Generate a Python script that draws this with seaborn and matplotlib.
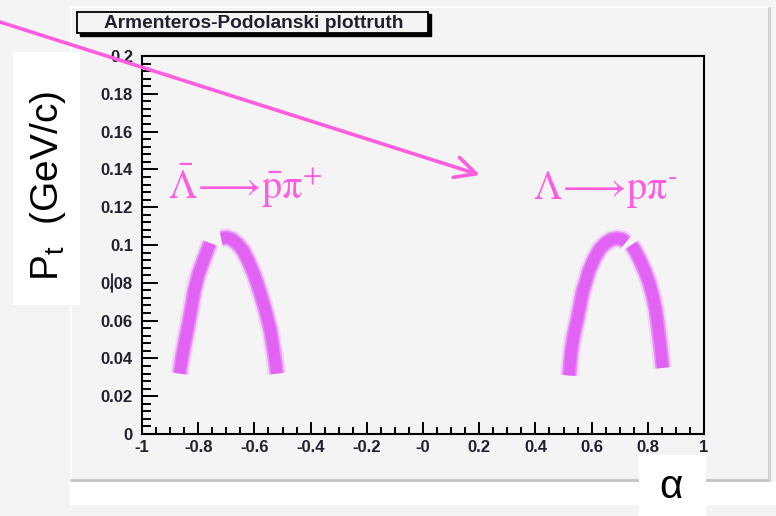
import matplotlib
matplotlib.use("Agg")
import matplotlib.pyplot as plt
import pandas as pd
import seaborn as sns
from matplotlib.patches import Rectangle, FancyArrowPatch
from matplotlib.lines import Line2D

# Centre lines of the populated Armenteros-Podolanski bands (alpha, p_t [GeV/c]).
# Each arc is split in two pieces at the narrow gap near its top.
abar_a_alpha = [-0.866, -0.858, -0.848, -0.836, -0.825, -0.815, -0.800, -0.781, -0.768, -0.758]
abar_a_pt = [0.032, 0.040, 0.048, 0.057, 0.066, 0.075, 0.084, 0.092, 0.097, 0.101]
abar_b_alpha = [-0.718, -0.700, -0.680, -0.660, -0.640, -0.620, -0.600, -0.580, -0.560, -0.543, -0.530, -0.520]
abar_b_pt = [0.1035, 0.1040, 0.1030, 0.1005, 0.097, 0.091, 0.084, 0.075, 0.065, 0.055, 0.043, 0.032]
lam_a_alpha = [0.520, 0.527, 0.536, 0.547, 0.568, 0.590, 0.610, 0.630, 0.650, 0.670, 0.690, 0.710, 0.722]
lam_a_pt = [0.031, 0.043, 0.052, 0.059, 0.075, 0.086, 0.093, 0.098, 0.101, 0.103, 0.1035, 0.103, 0.1015]
lam_b_alpha = [0.742, 0.755, 0.772, 0.790, 0.805, 0.818, 0.828, 0.836, 0.845, 0.853]
lam_b_pt = [0.100, 0.097, 0.092, 0.086, 0.080, 0.073, 0.066, 0.057, 0.046, 0.035]

x_ticks = [-1.0, -0.8, -0.6, -0.4, -0.2, 0.0, 0.2, 0.4, 0.6, 0.8, 1.0]
x_tick_labels = ["-1", "-0.8", "-0.6", "-0.4", "-0.2", "-0", "0.2", "0.4", "0.6", "0.8", "1"]
y_ticks = [0.0, 0.02, 0.04, 0.06, 0.08, 0.10, 0.12, 0.14, 0.16, 0.18, 0.20]
y_tick_labels = ["0", "0.02", "0.04", "0.06", "0.08", "0.1", "0.12", "0.14", "0.16", "0.18", "0.2"]

title = "Armenteros-Podolanski plottruth"
label_antilambda = r"$\bar{\Lambda}\!\longrightarrow\!\bar{\mathrm{p}}\mathrm{\pi}^{+}$"
label_lambda = r"$\Lambda\!\longrightarrow\!\mathrm{p}\mathrm{\pi}^{\text{-}}$"

frames = []
for name, a, p in [("abar_a", abar_a_alpha, abar_a_pt), ("abar_b", abar_b_alpha, abar_b_pt),
                   ("lam_a", lam_a_alpha, lam_a_pt), ("lam_b", lam_b_alpha, lam_b_pt)]:
    frames.append(pd.DataFrame({"alpha": a, "pt": p, "segment": name}))
bands = pd.concat(frames, ignore_index=True)

W, H = 776, 516
sns.set_theme(style="ticks")
plt.rcParams["font.family"] = ["Liberation Sans", "DejaVu Sans"]
plt.rcParams["axes.unicode_minus"] = False

BG = "#f4f4f4"
INK = "#20202e"
MAGENTA = "#ff5ce0"
POINTS = "#e262f4"

fig = plt.figure(figsize=(W / 100, H / 100), dpi=100, facecolor=BG)


def rect(x0, y0, x1, y1, **kw):
    r = Rectangle((x0 / W, 1 - y1 / H), (x1 - x0) / W, (y1 - y0) / H,
                  transform=fig.transFigure, **kw)
    fig.add_artist(r)
    return r


def line(x0, y0, x1, y1, **kw):
    fig.add_artist(Line2D([x0 / W, x1 / W], [1 - y0 / H, 1 - y1 / H],
                          transform=fig.transFigure, **kw))


# canvas edges: light top/left rim and a grey drop shadow on bottom/right
line(71, 7, 768, 7, color="white", lw=1.2, zorder=0)
line(71, 7, 71, 480, color="white", lw=1.2, zorder=0)
line(71, 480, 769, 480, color="#c4c4c4", lw=2.0, zorder=0)
line(769, 8, 769, 481, color="#d0d0d0", lw=2.0, zorder=0)
rect(70, 482, 776, 505, facecolor="white", edgecolor="none", zorder=0)

# plot frame
ax = fig.add_axes([142 / W, 1 - 434 / H, 562 / W, 378 / H])
ax.set_facecolor(BG)

# sparse outer fringe, then the dense core of each band
sns.lineplot(data=bands, x="alpha", y="pt", units="segment", estimator=None, sort=False,
             color="#f0b4f8", linewidth=13.5, alpha=0.45, ax=ax, solid_capstyle="butt")
sns.lineplot(data=bands, x="alpha", y="pt", units="segment", estimator=None, sort=False,
             color="#e27cf6", linewidth=10.5, alpha=0.8, ax=ax, solid_capstyle="butt")
sns.lineplot(data=bands, x="alpha", y="pt", units="segment", estimator=None, sort=False,
             color=POINTS, linewidth=8.0, ax=ax, solid_capstyle="butt")

ax.set_xlim(-1, 1)
ax.set_ylim(0, 0.2)
ax.set_xlabel("")
ax.set_ylabel("")
ax.set_xticks(x_ticks)
ax.set_xticklabels(x_tick_labels)
ax.set_yticks(y_ticks)
ax.set_yticklabels(y_tick_labels)
ax.set_xticks([v / 100 for v in range(-100, 101, 5)], minor=True)
ax.set_yticks([v / 1000 for v in range(0, 201, 4)], minor=True)
ax.tick_params(axis="both", which="both", direction="in", colors="black", width=1.4,
               labelcolor=INK, labelsize=12)
ax.tick_params(axis="y", which="major", length=11.5, pad=6.5)
ax.tick_params(axis="y", which="minor", length=6.5)
ax.tick_params(axis="x", which="major", length=9, pad=4)
ax.tick_params(axis="x", which="minor", length=5)
for lab in ax.get_xticklabels() + ax.get_yticklabels():
    lab.set_fontweight("bold")
for side in ("left", "bottom", "top", "right"):
    ax.spines[side].set_visible(True)
    ax.spines[side].set_color("black")
    ax.spines[side].set_linewidth(1.5)
ax.grid(False)

# decay channel labels
ax.text(-0.907, 0.1243, label_antilambda, color=MAGENTA, fontsize=29,
        math_fontfamily="stix", ha="left", va="baseline")
ax.text(0.391, 0.1243, label_lambda, color=MAGENTA, fontsize=29,
        math_fontfamily="stix", ha="left", va="baseline")

# title box with shadow
rect(80, 14, 431, 36, facecolor="black", edgecolor="black", lw=1.0, zorder=3)
rect(77, 12, 428, 33, facecolor=BG, edgecolor="black", lw=1.3, zorder=4)
fig.text(254 / W, 1 - 23 / H, title, ha="center", va="center", fontsize=13.8,
         fontweight="bold", color=INK, zorder=5)

# axis titles on white cards
rect(13, 52, 80, 305, facecolor="white", edgecolor="none", zorder=3)
fig.text(48 / W, 1 - 186 / H, r"P$_{\mathregular{t}}$  (GeV/c)", rotation=90,
         ha="center", va="center", fontsize=28, color="black", zorder=4)
rect(639, 455, 706, 516, facecolor="white", edgecolor="none", zorder=3)
fig.text(671 / W, 1 - 487 / H, "α", ha="center", va="center", fontsize=29,
         color="black", zorder=4)

# text cursor mark beside the 0.08 label
line(112, 274, 112, 292, color="#1a1a40", lw=1.3, zorder=5)

# pointer arrow across the canvas
arrow = FancyArrowPatch((0, 1 - 22 / H), (480 / W, 1 - 175 / H), transform=fig.transFigure,
                        arrowstyle="->,head_length=15,head_width=7.5", mutation_scale=1,
                        shrinkA=0, shrinkB=0,
                        color=MAGENTA, lw=2.6, capstyle="round", joinstyle="round", zorder=10)
fig.add_artist(arrow)

fig.savefig("out.png", dpi=100, facecolor=BG)
